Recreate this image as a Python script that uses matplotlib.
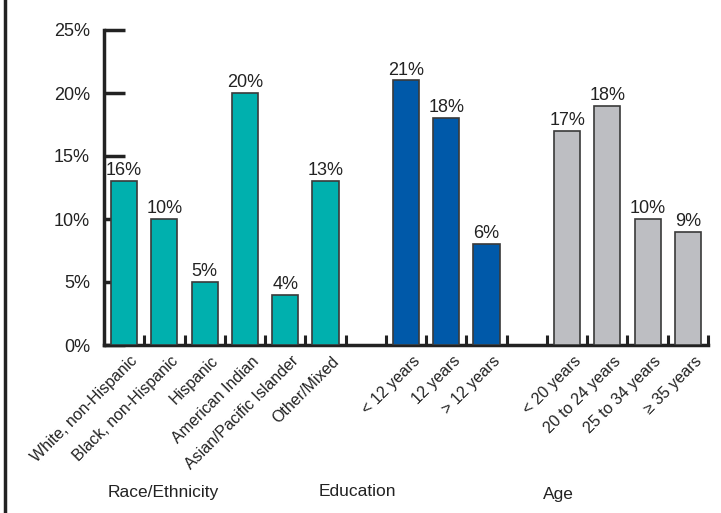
import matplotlib
matplotlib.use("Agg")
import matplotlib.pyplot as plt
import matplotlib.transforms as mtrans
from matplotlib.lines import Line2D

plt.rcParams['font.family'] = ['Liberation Sans Narrow', 'Liberation Sans', 'DejaVu Sans']

race_cats = ["White, non-Hispanic", "Black, non-Hispanic", "Hispanic", "American Indian",
             "Asian/Pacific Islander", "Other/Mixed"]
race_vals = [13, 10, 5, 20, 4, 13]
race_labels = ["16%", "10%", "5%", "20%", "4%", "13%"]

edu_cats = ["< 12 years", "12 years", "> 12 years"]
edu_vals = [21, 18, 8]
edu_labels = ["21%", "18%", "6%"]

age_cats = ["< 20 years", "20 to 24 years", "25 to 34 years", "\u2265 35 years"]
age_vals = [17, 19, 10, 9]
age_labels = ["17%", "18%", "10%", "9%"]

groups = ["Race/Ethnicity", "Education", "Age"]
yticks = [0, 5, 10, 15, 20, 25]

fig = plt.figure(figsize=(7.21, 5.13), dpi=100)
ax = fig.add_axes([104/721, 1-345/513, (708-104)/721, (345-30)/513])

colors = ["#00B0AE", "#0059A9", "#BDBEC2"]
series = [(race_cats, race_vals, race_labels), (edu_cats, edu_vals, edu_labels),
          (age_cats, age_vals, age_labels)]
pos = 0
xt, xl = [], []
for gi, (cats, vals, labs) in enumerate(series):
    xs = [pos + i + 0.5 for i in range(len(cats))]
    ax.bar(xs, vals, width=0.65, color=colors[gi], edgecolor="#3a3a3a", linewidth=1.2, zorder=3)
    for x, v, l in zip(xs, vals, labs):
        ax.text(x, v + 0.15, l, ha="center", va="bottom", fontsize=13, color="#222222")
    xt += xs
    xl += cats
    pos += len(cats) + 1

ax.set_xlim(0, 15)
ax.set_ylim(0, 25)
ax.set_yticks(yticks)
ax.set_yticklabels([f"{t}%" for t in yticks], fontsize=13, color="#222222")
ax.tick_params(axis="y", direction="in", length=15, width=2.5, color="#222222", pad=10)

ax.set_xticks(xt)
ax.set_xticklabels(xl, rotation=45, ha="right", rotation_mode="anchor", fontsize=11.5, color="#222222")
ax.tick_params(axis="x", length=0, pad=6)
offset = mtrans.ScaledTranslation(6/100, 0, fig.dpi_scale_trans)
for lab in ax.get_xticklabels():
    lab.set_transform(lab.get_transform() + offset)

# tick marks at slot boundaries
ax.set_xticks(list(range(1, 16)), minor=True)
ax.tick_params(axis="x", which="minor", direction="in", length=7, width=2.2, color="#222222")

for s in ["top", "right"]:
    ax.spines[s].set_visible(False)
for s in ["left", "bottom"]:
    ax.spines[s].set_linewidth(2.5)
    ax.spines[s].set_color("#222222")

# group labels
fig.text(163/721, 1-492/513, groups[0], ha="center", va="center", fontsize=12.5, color="#222222")
fig.text(357/721, 1-492/513, groups[1], ha="center", va="center", fontsize=12.5, color="#222222")
fig.text(558/721, 1-495/513, groups[2], ha="center", va="center", fontsize=12.5, color="#222222")

fig.add_artist(Line2D([5/721, 5/721], [0, 1], transform=fig.transFigure, color="#222222", linewidth=2.5))

fig.savefig("out.png", dpi=100)
